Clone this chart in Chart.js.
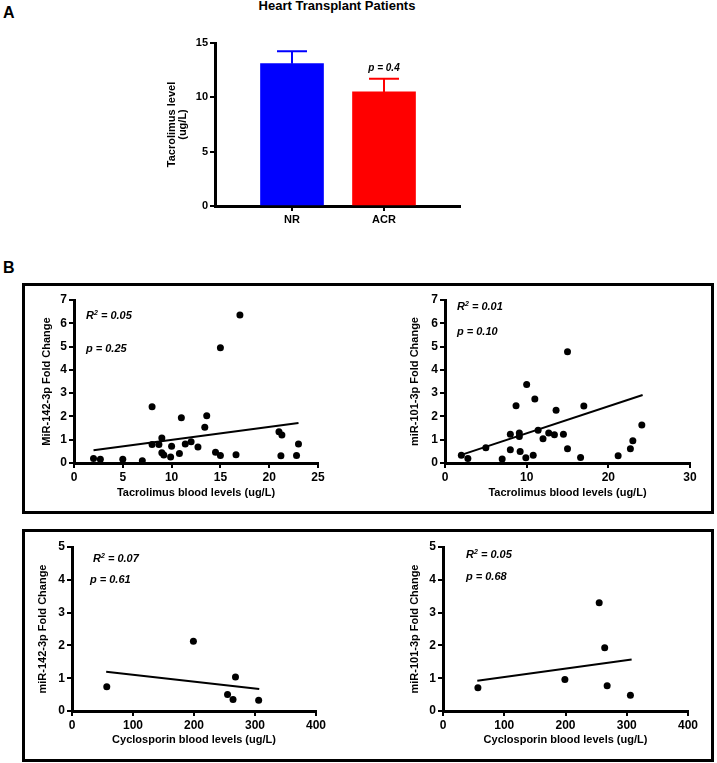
<!DOCTYPE html>
<html>
<head>
<meta charset="utf-8">
<script src="https://cdn.jsdelivr.net/npm/chart.js@4.4.1/dist/chart.umd.min.js"></script>
<style>
  body { margin: 0; background: #fff; width: 717px; height: 763px; position: relative; overflow: hidden; font-family: "Liberation Sans", Arial, sans-serif; color: #000; }
  .abs { position: absolute; }
  .box { position: absolute; border: 3px solid #000; box-sizing: border-box; }
  .letter { position: absolute; font-size: 16px; font-weight: bold; line-height: 16px; }
  .note { position: absolute; font-size: 11px; font-weight: bold; font-style: italic; line-height: 13px; white-space: nowrap; }
  .note sup { font-size: 7px; line-height: 0; vertical-align: 4px; }
</style>
</head>
<body>
<div class="letter" style="left:3px;top:5px">A</div>
<div class="abs" style="left:237px;top:-2px;width:200px;text-align:center;font-size:13px;font-weight:bold;line-height:16px">Heart Transplant Patients</div>
<div class="abs" style="left:150px;top:30px;width:320px;height:200px"><canvas id="barA"></canvas></div>
<div class="note" style="left:334px;top:62px;width:100px;text-align:center;font-size:10px;line-height:12px">p = 0.4</div>

<div class="letter" style="left:3px;top:260px">B</div>
<div class="box" style="left:22px;top:283px;width:692px;height:231px"></div>
<div class="box" style="left:22px;top:529px;width:692px;height:233px"></div>

<div class="abs" style="left:30px;top:290px;width:300px;height:215px"><canvas id="tac142"></canvas></div>
<div class="abs" style="left:398px;top:290px;width:304px;height:215px"><canvas id="tac101"></canvas></div>
<div class="abs" style="left:26px;top:537px;width:304px;height:215px"><canvas id="cyc142"></canvas></div>
<div class="abs" style="left:398px;top:537px;width:304px;height:215px"><canvas id="cyc101"></canvas></div>

<div class="note" style="left:86px;top:309px">R<sup>2</sup> = 0.05</div>
<div class="note" style="left:86px;top:342px">p = 0.25</div>
<div class="note" style="left:457px;top:300px">R<sup>2</sup> = 0.01</div>
<div class="note" style="left:457px;top:325px">p = 0.10</div>
<div class="note" style="left:93px;top:552px">R<sup>2</sup> = 0.07</div>
<div class="note" style="left:90px;top:573px">p = 0.61</div>
<div class="note" style="left:466px;top:548px">R<sup>2</sup> = 0.05</div>
<div class="note" style="left:466px;top:570px">p = 0.68</div>

<script>
Chart.defaults.font.family = '"Liberation Sans", Arial, sans-serif';
Chart.defaults.color = '#000';
Chart.defaults.animation = false;
Chart.defaults.plugins.legend.display = false;
Chart.defaults.plugins.tooltip.enabled = false;

// panel A: tacrolimus level by group (mean + SEM)
const groups = ['NR', 'ACR'];
const tacMean = [13.1, 10.5];
const tacSem = [1.15, 1.2];
const barColors = ['#0000FF', '#FF0000'];

// panel B, top: tacrolimus blood levels vs fold change
const tacX142 = [2.0, 2.7, 5.0, 7.0, 8.0, 8.7, 9.0, 9.0, 9.2, 9.9, 10.0, 10.8, 11.4, 12.0, 12.7, 13.4, 14.5, 15.0, 16.6, 21.0, 21.3, 21.2, 22.8, 23.0, 8.0, 11.0, 13.6, 15.0, 17.0];
const tacY142 = [0.19, 0.16, 0.16, 0.10, 0.79, 0.79, 1.07, 0.44, 0.34, 0.26, 0.72, 0.41, 0.82, 0.91, 0.69, 1.53, 0.46, 0.32, 0.35, 1.34, 1.20, 0.31, 0.32, 0.82, 2.42, 1.94, 2.03, 4.95, 6.36];
const tacFitX142 = [2, 23];
const tacFitY142 = [0.55, 1.72];

const tacX101 = [2.0, 2.8, 5.0, 7.0, 8.0, 8.0, 9.1, 9.1, 9.2, 9.9, 10.8, 11.4, 12.0, 12.7, 13.4, 14.5, 15.0, 16.6, 21.2, 22.7, 23.0, 24.1, 8.7, 10.0, 11.0, 13.6, 17.0, 15.0];
const tacY101 = [0.33, 0.19, 0.66, 0.17, 0.57, 1.23, 1.29, 1.14, 0.49, 0.23, 0.33, 1.41, 1.04, 1.29, 1.21, 1.23, 0.61, 0.24, 0.31, 0.61, 0.96, 1.63, 2.46, 3.37, 2.75, 2.26, 2.45, 4.78];
const tacFitX101 = [2, 24.2];
const tacFitY101 = [0.35, 2.92];

// panel B, bottom: cyclosporin blood levels vs fold change
const cycX = [57, 199, 255, 264, 268, 306];
const cycY142 = [0.74, 2.13, 0.50, 0.35, 1.04, 0.33];
const cycFitX142 = [56, 307];
const cycFitY142 = [1.2, 0.67];
const cycY101 = [0.71, 0.96, 3.30, 1.93, 0.77, 0.48];
const cycFitX101 = [56, 308];
const cycFitY101 = [0.92, 1.57];

function axis(min, max, step, title, size, titlePad, tickSize) {
  return {
    type: 'linear',
    min: min,
    max: max,
    offset: false,
    border: { color: '#000', width: 3 },
    grid: { drawOnChartArea: false, color: '#000', lineWidth: 2, tickLength: 5, offset: false },
    ticks: { stepSize: step, padding: 2, font: { size: tickSize, weight: 'bold' } },
    title: { display: !!title, text: title, font: { size: 11, weight: 'bold', lineHeight: 1.2 }, padding: titlePad },
    afterFit: (s) => {
      if (s.isHorizontal()) s.height = size;
      else s.width = size;
    }
  };
}

const errorBars = {
  id: 'errorBars',
  afterDatasetsDraw(chart) {
    const { ctx, scales: { x, y } } = chart;
    ctx.save();
    ctx.lineWidth = 2;
    tacMean.forEach((m, i) => {
      const px = x.getPixelForValue(i);
      const top = y.getPixelForValue(m + tacSem[i]);
      ctx.strokeStyle = barColors[i];
      ctx.beginPath();
      ctx.moveTo(px, y.getPixelForValue(m));
      ctx.lineTo(px, top);
      ctx.moveTo(px - 15, top);
      ctx.lineTo(px + 15, top);
      ctx.stroke();
    });
    ctx.restore();
  }
};

const barX = axis(-0.837, 1.826, 1, '', 24, 0, 11);
barX.afterBuildTicks = (s) => { s.ticks = groups.map((g, i) => ({ value: i })); };
barX.ticks.callback = (v) => groups[v];
const barY = axis(0, 15, 5, ['Tacrolimus level', '(ug/L)'], 65, { top: 16, bottom: 0 }, 11);
barY.title.font.lineHeight = 1.05;

new Chart(document.getElementById('barA'), {
  type: 'bar',
  data: {
    datasets: [{
      data: tacMean.map((m, i) => ({ x: i, y: m })),
      backgroundColor: barColors,
      barThickness: 63
    }]
  },
  options: {
    responsive: true,
    maintainAspectRatio: false,
    layout: { padding: { top: 13, right: 10, bottom: 0, left: 0 } },
    scales: { x: barX, y: barY }
  },
  plugins: [errorBars]
});

function scatter(id, xs, ys, fitX, fitY, xAxis, yAxis, pad) {
  new Chart(document.getElementById(id), {
    type: 'scatter',
    data: {
      datasets: [
        {
          data: xs.map((v, i) => ({ x: v, y: ys[i] })),
          pointRadius: 3.5,
          backgroundColor: '#000',
          borderWidth: 0,
          clip: false
        },
        {
          type: 'line',
          data: fitX.map((v, i) => ({ x: v, y: fitY[i] })),
          borderColor: '#000',
          borderWidth: 2,
          pointRadius: 0,
          showLine: true,
          clip: false
        }
      ]
    },
    options: {
      responsive: true,
      maintainAspectRatio: false,
      layout: { padding: pad },
      scales: { x: xAxis, y: yAxis }
    }
  });
}

const xPad = { top: 0, bottom: 5.4 };
const yPad = { top: 10.4, bottom: 0 };

scatter('tac142', tacX142, tacY142, tacFitX142, tacFitY142,
  axis(0, 25, 5, 'Tacrolimus blood levels (ug/L)', 42, xPad, 12),
  axis(0, 7, 1, 'MiR-142-3p Fold Change', 44, yPad, 12),
  { top: 10, right: 12, bottom: 0, left: 0 });

scatter('tac101', tacX101, tacY101, tacFitX101, tacFitY101,
  axis(0, 30, 10, 'Tacrolimus blood levels (ug/L)', 42, xPad, 12),
  axis(0, 7, 1, 'miR-101-3p Fold Change', 47, yPad, 12),
  { top: 10, right: 12, bottom: 0, left: 0 });

scatter('cyc142', cycX, cycY142, cycFitX142, cycFitY142,
  axis(0, 400, 100, 'Cyclosporin blood levels (ug/L)', 41, xPad, 12),
  axis(0, 5, 1, 'miR-142-3p Fold Change', 46, yPad, 12),
  { top: 10, right: 14, bottom: 0, left: 0 });

scatter('cyc101', cycX, cycY101, cycFitX101, cycFitY101,
  axis(0, 400, 100, 'Cyclosporin blood levels (ug/L)', 41, xPad, 12),
  axis(0, 5, 1, 'miR-101-3p Fold Change', 45, yPad, 12),
  { top: 10, right: 14, bottom: 0, left: 0 });
</script>
</body>
</html>
